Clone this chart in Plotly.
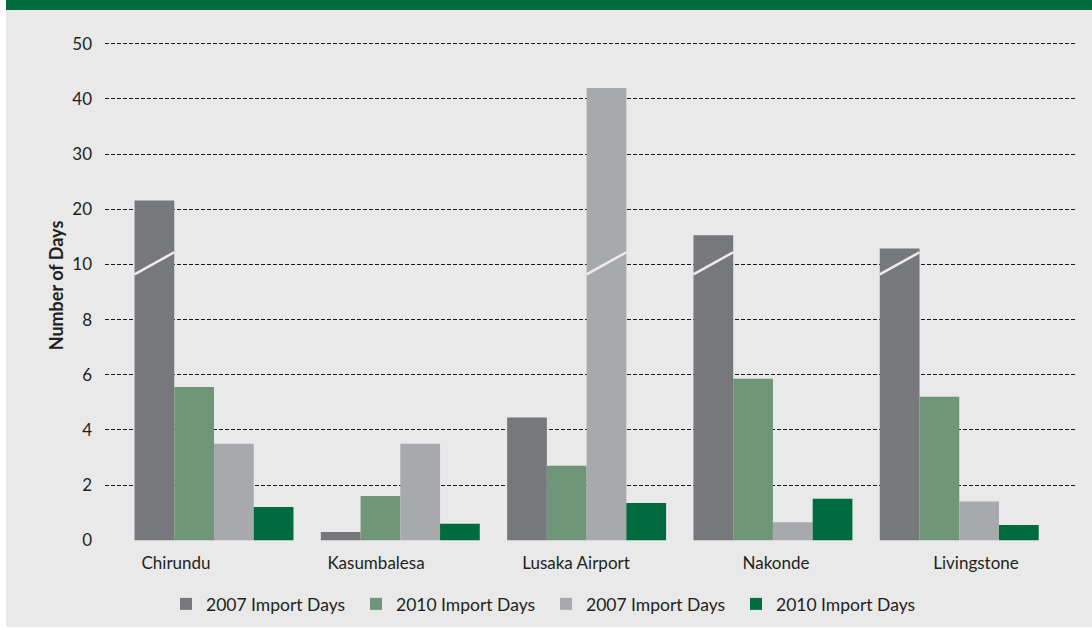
import plotly.graph_objects as go

categories = ["Chirundu", "Kasumbalesa", "Lusaka Airport", "Nakonde", "Livingstone"]
series_names = ["2007 Import Days", "2010 Import Days", "2007 Import Days", "2010 Import Days"]
dark_gray_2007 = [21.6, 0.3, 4.45, 15.3, 12.9]
sage_2010 = [5.55, 1.6, 2.7, 5.85, 5.2]
light_gray_2007 = [3.5, 3.5, 42.0, 0.65, 1.4]
green_2010 = [1.2, 0.6, 1.35, 1.5, 0.55]
series_values = [dark_gray_2007, sage_2010, light_gray_2007, green_2010]
colors = ["#77787b", "#6f9679", "#a8a9ad", "#006b3f"]

tick_values = [0, 2, 4, 6, 8, 10, 20, 30, 40, 50]
BREAK = 10.0
UPPER_SCALE = 5.0  # above the break, 10 days take the space of 2


def to_display(v):
    return v if v <= BREAK else BREAK + (v - BREAK) / UPPER_SCALE


FONT = "Lato"
TEXT = "#231f20"
W, H = 1092, 629
L, R, T, B = 105, 15, 30, 88
PW, PH = W - L - R, H - T - B
X_RANGE = [-0.585, 4.632]
# category labels in the original sit on an even 200px pitch, offset from the bar groups
LABEL_FIRST_PX, LABEL_PITCH_PX = 176, 200

fig = go.Figure()
for name, vals, col in zip(series_names, series_values, colors):
    fig.add_trace(go.Bar(
        x=list(range(len(categories))), y=[to_display(v) for v in vals],
        name=name, marker=dict(color=col, line=dict(width=0)),
        customdata=vals, hovertemplate="%{customdata}<extra></extra>",
    ))

bargap = 0.147
n = len(series_values)
bw = (1 - bargap) / n
shapes = []
# axis-break marks on bars that exceed the break
for k, vals in enumerate(series_values):
    for i, v in enumerate(vals):
        if v > BREAK:
            x0 = i - (1 - bargap) / 2 + k * bw
            shapes.append(dict(type="line", xref="x", yref="y",
                               x0=x0, x1=x0 + bw, y0=BREAK - 0.36, y1=BREAK + 0.44,
                               line=dict(color="#ececec", width=2.5), layer="above"))


def px_x(p):
    return (p - L) / PW


def px_y(p):
    return (H - B - p) / PH


def px_to_data_x(p):
    return X_RANGE[0] + (p - L) / PW * (X_RANGE[1] - X_RANGE[0])


label_positions = [px_to_data_x(LABEL_FIRST_PX + LABEL_PITCH_PX * i) for i in range(len(categories))]

# page decoration: white left strip, white bottom line, green top band
shapes.append(dict(type="rect", xref="paper", yref="paper",
                   x0=px_x(0), x1=px_x(6), y0=px_y(H), y1=px_y(0),
                   fillcolor="white", line=dict(width=0), layer="below"))
shapes.append(dict(type="rect", xref="paper", yref="paper",
                   x0=px_x(0), x1=px_x(W), y0=px_y(H), y1=px_y(H - 2),
                   fillcolor="white", line=dict(width=0), layer="below"))
shapes.append(dict(type="rect", xref="paper", yref="paper",
                   x0=px_x(6), x1=px_x(W), y0=px_y(10), y1=px_y(0),
                   fillcolor="#006b3f", line=dict(width=0), layer="above"))

fig.update_layout(
    width=W, height=H,
    margin=dict(l=L, r=R, t=T, b=B, autoexpand=False),
    paper_bgcolor="#e9e9e9", plot_bgcolor="rgba(0,0,0,0)",
    barmode="group", bargap=bargap, bargroupgap=0,
    font=dict(family=FONT, size=17, color=TEXT),
    shapes=shapes,
    showlegend=True,
    legend=dict(orientation="h", xref="container", yref="container",
                x=0.5, xanchor="center", y=1 - 604 / H, yanchor="middle",
                font=dict(size=17.5, color=TEXT), entrywidth=145, itemwidth=30,
                bgcolor="rgba(0,0,0,0)", traceorder="normal"),
    xaxis=dict(tickmode="array", tickvals=label_positions, ticktext=categories,
               range=X_RANGE, showgrid=False, zeroline=False, showline=False,
               ticks="", ticklabelstandoff=10, automargin=False,
               tickfont=dict(size=17, color=TEXT), fixedrange=True),
    yaxis=dict(tickmode="array", tickvals=[to_display(v) for v in tick_values],
               ticktext=[str(v) for v in tick_values],
               range=[-0.03, 18.5], showgrid=True, gridcolor="#1a1a1a", gridwidth=1,
               griddash="4px,2px", zeroline=False, showline=False, ticks="",
               ticklabelstandoff=12, fixedrange=True, automargin=False,
               tickfont=dict(size=17, color=TEXT),
               title=dict(text="<b>Number of Days</b>", font=dict(size=18, color=TEXT), standoff=3)),
)

fig.write_html("out.html", config={"displayModeBar": False},
               post_script="document.body.style.margin='0px';")
